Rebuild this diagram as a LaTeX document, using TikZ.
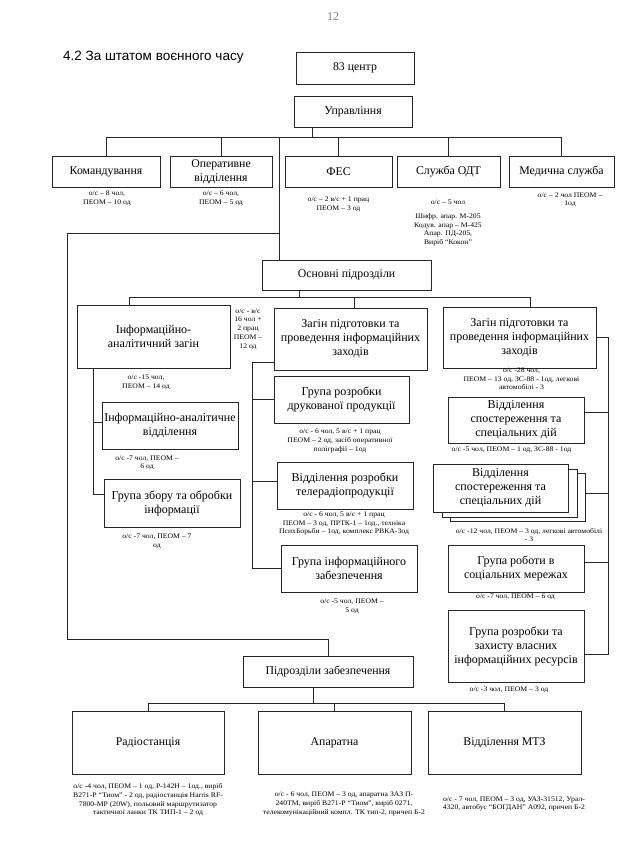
\documentclass[tikz,border=0pt]{standalone}
\usepackage{fontspec}
\setmainfont{Liberation Serif}
\newfontfamily\titlefont{Liberation Sans}
\newfontfamily\notefont[FakeStretch=1.1]{Liberation Serif}
\usetikzlibrary{positioning, calc}

\tikzset{
  box/.style={draw=black!85, line width=0.7pt, fill=white, align=center, inner sep=1pt, font=\fontsize{11.8}{14}\selectfont},
  bigbox/.style={box, font=\fontsize{12}{14}\selectfont},
  wh/.style 2 args={minimum width=#1pt, minimum height=#2pt},
  note/.style={align=center, inner sep=0pt, font=\notefont\fontsize{7}{8.7}\selectfont},
  link/.style={draw=black!85, line width=0.7pt},
}

\begin{document}
\begin{tikzpicture}[x=1pt, y=-1pt]
\useasboundingbox (0,0) rectangle (620,845);
\node[gray] (page) at (333,17) {\fontsize{12}{14}\selectfont 12};
\node[anchor=west, inner sep=0pt] (title) at (63,57) {\titlefont\fontsize{13.5}{15}\selectfont 4.2 За штатом воєнного часу};

\node[box, wh={118}{32}] (centr) at (355,68) {83 центр};
\node[box, wh={118}{31}] (upr) at (353,111.5) {Управління};

\node[box, wh={108}{31}] (kom) at (106,171.5) {Командування};
\node[box, wh={102}{31}] (oper) at (221,171.5) {Оперативне\\відділення};
\node[box, wh={107}{31}] (fes) at (338.5,171.5) {ФЕС};
\node[box, wh={103}{31}] (odt) at (448.5,171.5) {Служба ОДТ};
\node[box, wh={105}{31}] (med) at (561.5,171.5) {Медична служба};

\node[note] (kom-n) at (107,198.5) {о/с – 8 чол,\\ПЕОМ – 10 од};
\node[note] (oper-n) at (221,198.5) {о/с – 6 чол,\\ПЕОМ – 5 од};
\node[note] (fes-n) at (338.5,204.5) {о/с – 2 в/с + 1 прац\\ПЕОМ – 3 од};
\node[note, anchor=north] (odt-n) at (448,200) {о/с – 5 чол\\[5pt]Шифр. апар. М-205\\Кодув. апар – М-425\\Апар. ПД-205,\\Виріб “Кокон”};
\node[note] (med-n) at (570,200) {о/с – 2 чол ПЕОМ –\\1од};

\node[box, wh={169}{30}] (osn) at (346.5,275) {Основні підрозділи};
\node[note] (osn-n) at (248,329) {о/с - в/с\\16 чол +\\2 прац\\ПЕОМ –\\12 од};

\node[bigbox, wh={153}{63}] (iaz) at (153.5,336.5) {Інформаційно-\\аналітичний загін};
\node[bigbox, wh={153}{62}] (zag1) at (350.5,339) {Загін підготовки та\\проведення інформаційних\\заходів};
\node[bigbox, wh={153}{61}] (zag2) at (519.5,337.5) {Загін підготовки та\\проведення інформаційних\\заходів};

\node[note] (iaz-n) at (146,382.5) {о/с -15 чол,\\ПЕОМ – 14 од};
\node[bigbox, wh={136}{47}] (iav) at (170,425.5) {Інформаційно-аналітичне\\відділення};
\node[note] (iav-n) at (147,463) {о/с -7 чол, ПЕОМ –\\6 од};
\node[bigbox, wh={136}{48}] (gzo) at (172,503) {Група збору та обробки\\інформації};
\node[note] (gzo-n) at (157,541.5) {о/с -7 чол, ПЕОМ – 7\\од};

\node[bigbox, wh={135}{47}] (grdp) at (341.5,399.5) {Група розробки\\друкованої продукції};
\node[note] (grdp-n) at (340,441) {о/с - 6 чол, 5 в/с + 1 прац\\ПЕОМ – 2 од, засіб оперативної\\поліграфії – 1од};
\node[bigbox, wh={136}{47}] (vrt) at (345,485.5) {Відділення розробки\\телерадіопродукції};
\node[note] (vrt-n) at (344,523.5) {о/с - 6 чол, 5 в/с + 1 прац\\ПЕОМ – 3 од, ПРТК-1 – 1од., техніка\\ПсихБорьби – 1од, комплекс РВКА-3од};
\node[bigbox, wh={136}{47}] (gie) at (349,568.5) {Група інформаційного\\забезпечення};
\node[note] (gie-n) at (352,606.5) {о/с -5 чол, ПЕОМ –\\5 од};

\node[note] (zag2-n) at (521.5,379) {о/с -28 чол,\\ПЕОМ – 13 од, ЗС-88 - 1од, легкові\\автомобілі - 3};
\node[bigbox, wh={136}{46}] (vss) at (516,420) {Відділення\\спостереження та\\спеціальних дій};
\node[note] (vss-n) at (511.5,450) {о/с -5 чол, ПЕОМ – 1 од, ЗС-88 - 1од};
\node[box, wh={135}{48}] (vss2c) at (517.5,497) {};
\node[box, wh={135}{48}] (vss2b) at (509.5,493) {};
\node[bigbox, wh={135}{48}] (vss2) at (500.5,488) {Відділення\\спостереження та\\спеціальних дій};
\node[note] (vss2-n) at (529,535) {о/с -12 чол, ПЕОМ – 3 од, легкові автомобілі\\- 3};
\node[bigbox, wh={136}{47}] (grsm) at (516,568.5) {Група роботи в\\соціальних мережах};
\node[note] (grsm-n) at (515.5,596.5) {о/с -7 чол, ПЕОМ – 6 од};
\node[bigbox, wh={136}{72}] (grz) at (516,646) {Група розробки та\\захисту власних\\інформаційних ресурсів};
\node[note] (grz-n) at (509,690) {о/с -3 чол, ПЕОМ – 3 од};

\node[box, wh={170}{31}] (pz) at (328,671.5) {Підрозділи забезпечення};
\node[box, wh={152}{63}] (rad) at (148,742.5) {Радіостанція};
\node[box, wh={153}{63}] (apa) at (334.5,742.5) {Апаратна};
\node[box, wh={153}{63}] (mtz) at (504.5,742.5) {Відділення МТЗ};

\node[note] (rad-n) at (148,800) {о/с -4 чол, ПЕОМ – 1 од, Р-142Н – 1од., виріб\\В271-Р “Тиом” - 2 од, радіостанція Harris RF-\\7800-MP (20W), польовий маршрутизатор\\тактичної ланки ТК ТИП-1 – 2 од};
\node[note] (apa-n) at (344,804) {о/с - 6 чол, ПЕОМ – 3 од, апаратна ЗАЗ П-\\240TM, виріб В271-Р “Тиом”, виріб 0271,\\телекомунікаційний компл. ТК тип-2, причеп Б-2};
\node[note] (mtz-n) at (514,804) {о/с - 7 чол, ПЕОМ – 3 од, УАЗ-31512, Урал-\\4320, автобус “БОГДАН” А092, причеп Б-2};

% управління
\coordinate (b1) at (312,137);
\draw[link] (upr.south -| b1) -- (b1);
\foreach \n in {kom,oper,fes,odt,med}
  \draw[link] (b1) -| (\n.north);

% основні підрозділи та забезпечення
\coordinate (b2) at (279,137);
\coordinate (lt) at (67,233);
\coordinate (lb) at (67,639);
\draw[link] (b2) -- (b2 |- osn.north);
\draw[link] (b2 |- lt) -- (lt) -- (lb) -| (pz.north);

\coordinate (b3) at (299,297);
\draw[link] (osn.south -| b3) -- (b3);
\foreach \n/\x in {iaz/129, zag1/354, zag2/530}
  \draw[link] (b3) -| (\n.north -| \x,0);

\draw[link] (iaz.south -| 93,0) |- (iav.west |- 0,422);
\draw[link] (iaz.south -| 93,0) |- (gzo.west |- 0,494);

\coordinate (s2) at (252,362);
\draw[link] (zag1.west |- s2) -- (s2) |- (gie.west);
\draw[link] (s2) |- (grdp.west);
\draw[link] (s2) |- (vrt.west |- 0,481);

\coordinate (s3) at (608,337);
\draw[link] (zag2.east |- s3) -- (s3) |- (grz.east |- 0,654);
\foreach \n/\y in {vss/412, vss2c/493, grsm/562}
  \draw[link] (s3) |- (\n.east |- 0,\y);

\coordinate (b5) at (313,703);
\draw[link] (pz.south -| b5) -- (b5);
\foreach \n in {rad,apa,mtz}
  \draw[link] (b5) -| (\n.north);
\end{tikzpicture}
\end{document}
